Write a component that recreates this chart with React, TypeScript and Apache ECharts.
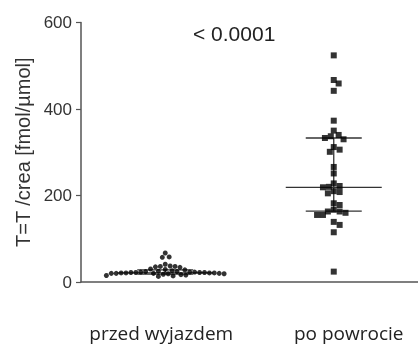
import React, { useEffect, useRef } from "react";
import * as echarts from "echarts";

const categories = ["przed wyjazdem", "po powrocie"];
const yMin = 0;
const yMax = 600;
const yInterval = 200;
const przedValues = [67, 58, 57, 41, 37, 36, 36, 35, 34, 30, 29, 28, 26, 25, 24, 24, 23, 23, 23, 22, 22, 22, 22, 21, 21, 21, 21, 20, 20, 20, 20, 19, 19, 18, 17, 16, 15, 14, 13];
const poValues = [524, 467, 459, 442, 373, 350, 340, 337, 333, 330, 312, 306, 301, 266, 251, 228, 222, 220, 219, 210, 208, 205, 182, 178, 167, 163, 163, 160, 155, 155, 139, 132, 115, 24];
const medians = [21, 219];
const lowerQuartiles = [18, 164];
const upperQuartiles = [28, 333];
const pLabel = "< 0.0001";
const yName = "T=T /crea [fmol/µmol]";

const W = 418;
const H = 348;
const GRID = { left: 81, top: 22.5, right: -6.5, bottom: 66 };
const plotW = W - GRID.left - GRID.right;
const plotH = H - GRID.top - GRID.bottom;
const pxPerX = plotW / categories.length;
const pxPerY = plotH / (yMax - yMin);

function swarm(values: number[], center: number, d: number): number[][] {
  const placed: { x: number; y: number }[] = [];
  const out: number[][] = [];
  const sorted = [...values].sort((a, b) => b - a);
  for (const v of sorted) {
    const py = v * pxPerY;
    let off = 0;
    for (let k = 0; k < 400; k++) {
      const cand = k === 0 ? 0 : (k % 2 === 1 ? 1 : -1) * Math.ceil(k / 2);
      const ok = placed.every((p) => Math.hypot(p.x - cand, p.y - py) >= d);
      if (ok) {
        off = cand;
        break;
      }
    }
    placed.push({ x: off, y: py });
    out.push([center + off / pxPerX, v]);
  }
  return out;
}

export default function App() {
  const ref = useRef<HTMLDivElement>(null);
  useEffect(() => {
    if (!ref.current) return;
    const chart = echarts.init(ref.current, undefined, { renderer: "svg" });
    const statsData = categories.map((_, i) => [i + 0.5, medians[i], lowerQuartiles[i], upperQuartiles[i]]);
    chart.setOption({
      animation: false,
      grid: { left: GRID.left, top: GRID.top, right: GRID.right, bottom: GRID.bottom, containLabel: false },
      xAxis: [
        {
          type: "category",
          data: categories,
          boundaryGap: true,
          axisLine: { lineStyle: { color: "#555", width: 1.5 } },
          axisTick: { alignWithLabel: true, length: 5, lineStyle: { color: "#555", width: 1.2 } },
          axisLabel: {
            interval: 0,
            hideOverlap: false,
            margin: 41,
            color: "#222",
            fontFamily: "Open Sans",
            fontSize: 19,
            formatter: (v: string) => (v === categories[0] ? "{a|" + v + "}" : "{b|" + v + "}"),
            rich: {
              a: { fontFamily: "Open Sans", fontSize: 19, color: "#222", padding: [0, 8, 0, 0] },
              b: { fontFamily: "Open Sans", fontSize: 19, color: "#222", padding: [0, 0, 0, 30] },
            },
          },
          splitLine: { show: false },
        },
        { type: "value", min: 0, max: categories.length, show: false },
      ],
      yAxis: {
        type: "value",
        min: yMin,
        max: yMax,
        interval: yInterval,
        name: yName,
        nameLocation: "middle",
        nameRotate: 90,
        nameGap: 48,
        nameTextStyle: { fontFamily: "Liberation Sans", fontSize: 20, color: "#333" },
        axisLine: { show: true, lineStyle: { color: "#555", width: 1.5 } },
        axisTick: { show: true, length: 5, lineStyle: { color: "#555", width: 1.2 } },
        axisLabel: { fontFamily: "Liberation Sans", fontSize: 17, color: "#333", margin: 9 },
        splitLine: { show: false },
      },
      graphic: [
        {
          type: "text",
          left: 193,
          top: 23,
          style: { text: pLabel, fontFamily: "Liberation Sans", fontSize: 21, fill: "#222" },
        },
      ],
      series: [
        {
          type: "custom",
          xAxisIndex: 1,
          data: statsData,
          renderItem: (params: any, api: any) => {
            const x = api.value(0);
            const med = api.coord([x, api.value(1)]);
            const lo = api.coord([x, api.value(2)]);
            const hi = api.coord([x, api.value(3)]);
            const style = { stroke: "#333", lineWidth: 1.3 };
            return {
              type: "group",
              children: [
                { type: "line", shape: { x1: med[0] - 48, y1: med[1], x2: med[0] + 48, y2: med[1] }, style },
                { type: "line", shape: { x1: lo[0] - 28, y1: lo[1], x2: lo[0] + 28, y2: lo[1] }, style },
                { type: "line", shape: { x1: hi[0] - 28, y1: hi[1], x2: hi[0] + 28, y2: hi[1] }, style },
                { type: "line", shape: { x1: lo[0], y1: lo[1], x2: hi[0], y2: hi[1] }, style },
              ],
            };
          },
          z: 1,
        },
        {
          type: "scatter",
          xAxisIndex: 1,
          symbol: "circle",
          symbolSize: 5,
          itemStyle: { color: "#000" },
          data: swarm(przedValues, 0.5, 5),
          z: 2,
        },
        {
          type: "scatter",
          xAxisIndex: 1,
          symbol: "rect",
          symbolSize: 6,
          itemStyle: { color: "#000" },
          data: swarm(poValues, 1.5, 6),
          z: 2,
        },
      ],
    });
    return () => chart.dispose();
  }, []);
  return <div ref={ref} style={{ position: "fixed", left: 0, top: 0, width: W, height: H }} />;
}
